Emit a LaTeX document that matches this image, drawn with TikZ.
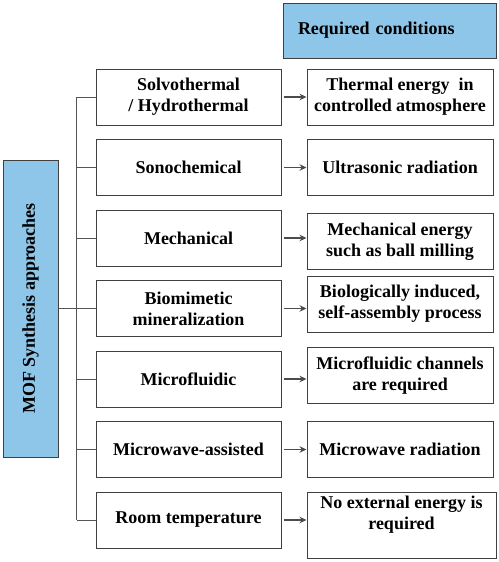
\documentclass[tikz,border=0pt]{standalone}
\usepackage{fontspec}
\setmainfont{Liberation Serif}
\usetikzlibrary{positioning,arrows.meta}
\definecolor{headblue}{HTML}{8EC6EA}
\definecolor{linegray}{HTML}{555555}

\begin{document}
\begin{tikzpicture}[x=1pt,y=1pt,
  box/.style={draw=black!75,line width=1pt,inner sep=3pt,align=center,font=\bfseries\fontsize{18}{21}\selectfont},
  method/.style={box,minimum width=185pt,minimum height=56pt},
  cond/.style={box,minimum width=186pt,minimum height=56pt},
  link/.style={draw=linegray,line width=1pt},
  goes/.style={-{Stealth[length=7pt,width=6.5pt]},draw=black!70,line width=1.8pt,shorten <=2pt}]
\useasboundingbox (0,0) rectangle (498,-562);
\node[box,fill=headblue,minimum height=55pt,text width=183pt,inner xsep=15pt,align=left] (head) at (389.5,-30.5) {Required conditions};
\node[box,fill=headblue,rotate=90,minimum width=297pt,minimum height=55pt] (mof) at (30.5,-308.5) {MOF Synthesis approaches};
% approaches
\node[method] (m1) at (188.5,-97) {Solvothermal\\/ Hydrothermal};
\node[method,below=13.5pt of m1] (m2) {Sonochemical};
\node[method,below=13.5pt of m2] (m3) {Mechanical};
\node[method,below=13.5pt of m3] (m4) {Biomimetic\\mineralization};
\node[method,below=13.5pt of m4] (m5) {Microfluidic};
\node[method,below=13.5pt of m5] (m6) {Microwave-assisted};
\node[method,below=13.5pt of m6] (m7) {Room temperature};
% conditions
\node[cond,right=25pt of m1] (c1) {Thermal energy\ \ in\\controlled atmosphere};
\node[cond,right=25pt of m2] (c2) {Ultrasonic radiation};
\node[cond,right=25pt of m3,yshift=-3.5pt] (c3) {Mechanical energy\\such as ball milling};
\node[cond,right=25pt of m4,yshift=4.5pt] (c4) {Biologically induced,\\self-assembly process};
\node[cond,right=25pt of m5,yshift=3.5pt] (c5) {Microfluidic channels\\are required};
\node[cond,right=25pt of m6] (c6) {Microwave radiation};
\node[cond,right=25pt of m7.north east,anchor=north west,minimum width=189pt,minimum height=66pt,text depth=24pt] (c7) {No external energy is\\required};
% tree lines
\draw[link] (mof.south) -- ++(19pt,0);
\draw[link] ([xshift=-19pt]m1.west) -- ([xshift=-19pt]m7.west);
\foreach \i in {1,...,7} {
  \draw[link] (m\i.west) -- ++(-19pt,0);
  \draw[goes] (m\i.east) -- (m\i.east -| c\i.west);
}
\end{tikzpicture}
\end{document}
